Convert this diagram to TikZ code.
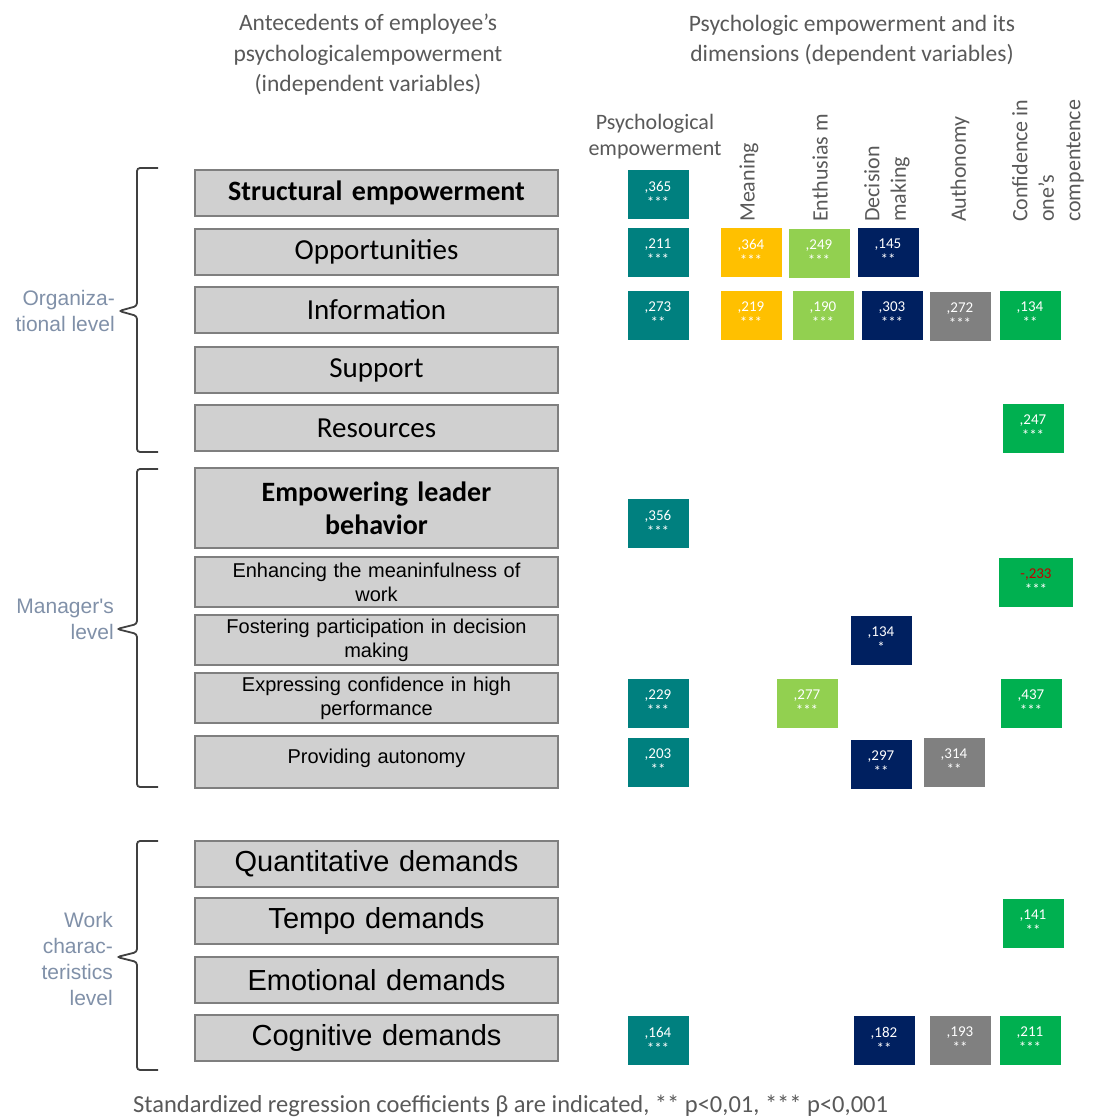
\documentclass[tikz,border=0pt]{standalone}
\usepackage{fontspec}
\setmainfont{Carlito}
\newfontfamily\arialf{Liberation Sans}
\usetikzlibrary{positioning}

\definecolor{boxfill}{HTML}{D0D0D0}
\definecolor{boxline}{HTML}{7F7F7F}
\definecolor{headgray}{HTML}{595959}
\definecolor{lvlcol}{HTML}{8090A8}
\definecolor{pecol}{HTML}{00807F}
\definecolor{meancol}{HTML}{FFC000}
\definecolor{enthcol}{HTML}{92D050}
\definecolor{deccol}{HTML}{002060}
\definecolor{autcol}{HTML}{808080}
\definecolor{compcol}{HTML}{00B050}
\definecolor{negcol}{HTML}{C00000}

\begin{document}
\begin{tikzpicture}[x=1pt, y=-1pt,
	factor/.style={draw=boxline, line width=1.6pt, fill=boxfill, minimum width=363pt, minimum height=46pt, inner sep=0pt, text width=355pt, align=center, font=\fontsize{29}{33}\selectfont},
	mgr/.style={factor, minimum height=50pt, font=\arialf\fontsize{20}{24}\selectfont},
	work/.style={factor, font=\arialf\fontsize{29}{33}\selectfont},
	coef/.style={fill=#1, minimum width=61pt, minimum height=49pt, inner sep=0pt, align=center, text=white, font=\fontsize{15}{16}\selectfont},
	dim/.style={rotate=90, anchor=west, inner sep=0pt, align=left, text=headgray, font=\fontsize{22}{26.5}\selectfont},
	lvl/.style={anchor=east, inner sep=0pt, align=right, text=lvlcol, font=\arialf\fontsize{21}{26}\selectfont},
	bracket/.style={draw=black!75, line width=1.8pt, rounded corners=3pt}]
	\useasboundingbox (0,0) rectangle (1093,1117);

	% headers
	\node [align=center, text=headgray, font=\fontsize{23.5}{30.5}\selectfont] (hleft) at (368,55) {Antecedents of employee's\\psychologicalempowerment\\(independent variables)};
	\node [align=center, text=headgray, font=\fontsize{23.5}{30.5}\selectfont] (hright) at (852,40) {Psychologic empowerment and its\\dimensions (dependent variables)};

	% dimension labels
	\node [align=center, text=headgray, font=\fontsize{22}{26}\selectfont] (d_pe) at (655,137) {Psychological\\empowerment};
	\node [dim] (d_mn) at (749,222) {Meaning};
	\node [dim] (d_en) at (820,222) {Enthusias m};
	\node [dim] (d_dm) at (887,222) {Decision\\making};
	\node [dim] (d_au) at (960,222) {Authonomy};
	\node [dim] (d_cc) at (1048,222) {Confidence in\\one's\\compentence};

	% antecedents
	\node [factor, font=\bfseries\fontsize{28}{31}\selectfont] (se) at (376.5,193) {Structural empowerment};
	\node [factor] (op) at (376.5,252) {Opportunities};
	\node [factor] (inf) at (376.5,310) {Information};
	\node [factor] (sup) at (376.5,370) {Support};
	\node [factor] (res) at (376.5,428) {Resources};
	\node [factor, minimum height=80pt, font=\bfseries\fontsize{28}{33}\selectfont] (elb) at (376.5,508) {Empowering leader\\behavior};
	\node [mgr] (emw) at (376.5,582) {Enhancing the meaninfulness of\\work};
	\node [mgr] (fpd) at (376.5,640) {Fostering participation in decision\\making};
	\node [mgr] (ech) at (376.5,698) {Expressing confidence in high\\performance};
	\node [mgr, minimum height=52pt] (pau) at (376.5,762) {Providing autonomy\\[-13pt]\mbox{}};
	\node [work] (qd) at (376.5,864) {Quantitative demands};
	\node [work] (td) at (376.5,921) {Tempo demands};
	\node [work] (emd) at (376.5,980) {Emotional demands};
	\node [work] (cd) at (376.5,1038) {Cognitive demands};

	% levels
	\node [lvl] (lvlorg) at (115,311) {Organiza-\\tional level};
	\node [lvl] (lvlman) at (114,619) {Manager's\\level};
	\node [lvl] (lvlwork) at (113,959) {Work\\charac-\\teristics\\level};
	\draw [bracket] (158,168) -- (137,168) -- (137,306) -- (119,311) -- (137,316) -- (137,452) -- (158,452);
	\draw [bracket] (158,469) -- (137,469) -- (137,624) -- (117,629) -- (137,634) -- (137,787) -- (158,787);
	\draw [bracket] (158,841) -- (137,841) -- (137,952) -- (117,957) -- (137,962) -- (137,1070) -- (158,1070);

	% coefficients
	\node [coef=pecol] (pe_se) at (658,194) {,365\\***};
	\node [coef=pecol] (pe_op) at (658,252) {,211\\***};
	\node [coef=meancol] (mn_op) at (751,252) {,364\\***};
	\node [coef=enthcol] (en_op) at (819,253) {,249\\***};
	\node [coef=deccol] (dm_op) at (888,252) {,145\\**};
	\node [coef=pecol] (pe_inf) at (658,315) {,273\\**};
	\node [coef=meancol] (mn_inf) at (751,315) {,219\\***};
	\node [coef=enthcol] (en_inf) at (823,315) {,190\\***};
	\node [coef=deccol] (dm_inf) at (892,315) {,303\\***};
	\node [coef=autcol] (au_inf) at (960,316) {,272\\***};
	\node [coef=compcol] (cc_inf) at (1030,315) {,134\\**};
	\node [coef=compcol] (cc_res) at (1033,428) {,247\\***};
	\node [coef=pecol] (pe_elb) at (658,523) {,356\\***};
	\node [coef=compcol, minimum width=74pt] (cc_emw) at (1036,582) {\textcolor{negcol}{-,233}\\***};
	\node [coef=deccol] (dm_fpd) at (881,640) {,134\\*};
	\node [coef=pecol] (pe_ech) at (658,703) {,229\\***};
	\node [coef=enthcol] (en_ech) at (807,703) {,277\\***};
	\node [coef=compcol] (cc_ech) at (1031,703) {,437\\***};
	\node [coef=pecol] (pe_pau) at (658,762) {,203\\**};
	\node [coef=deccol] (dm_pau) at (881,764) {,297\\**};
	\node [coef=autcol] (au_pau) at (954,762) {,314\\**};
	\node [coef=compcol] (cc_td) at (1033,923) {,141\\**};
	\node [coef=pecol] (pe_cd) at (658,1040) {,164\\***};
	\node [coef=deccol] (dm_cd) at (884,1040) {,182\\**};
	\node [coef=autcol] (au_cd) at (960,1040) {,193\\**};
	\node [coef=compcol] (cc_cd) at (1030,1040) {,211\\***};

	% note
	\node [anchor=west, inner sep=0pt, text=headgray, font=\fontsize{24.5}{26}\selectfont] (note) at (133,1106) {Standardized regression coefficients β are indicated, ** p<0,01, *** p<0,001};
\end{tikzpicture}
\end{document}
